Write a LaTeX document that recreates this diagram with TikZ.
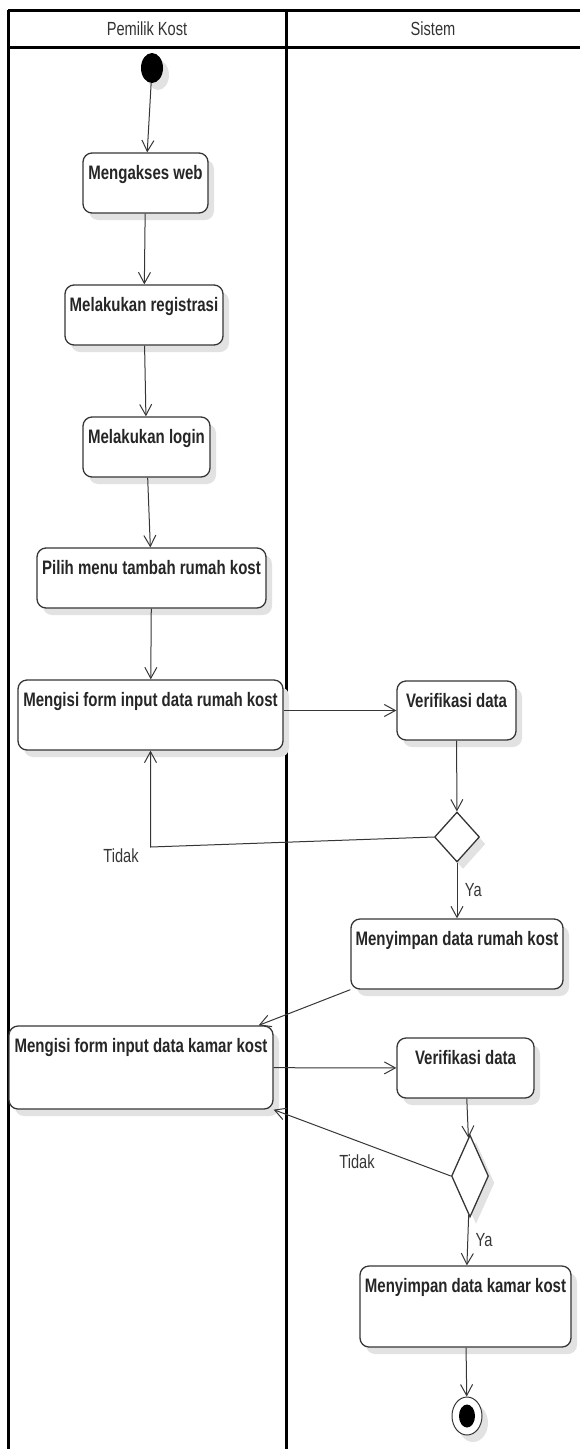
\documentclass[tikz,border=0pt]{standalone}
\usepackage{fontspec}
\setmainfont{Liberation Sans}[FakeStretch=0.77]
\usetikzlibrary{arrows.meta}
\usetikzlibrary{quotes}
\usetikzlibrary{shapes.geometric}
\usetikzlibrary{shadows}
\definecolor{garis}{HTML}{363636}
\definecolor{bayang}{HTML}{E2E2E2}

\begin{document}
\begin{tikzpicture}[x=1pt,y=-1pt,>={Straight Barb[length=11pt,width=12pt]},
    bayangan/.style={drop shadow={shadow xshift=6pt,shadow yshift=-7pt,fill=bayang,opacity=1}},
    every edge/.style={draw=garis,line width=1pt},
    every edge quotes/.style={font=\fontsize{19}{20}\selectfont,text=garis,right,xshift=4pt},
    alur/.style={draw=garis,line width=1pt},
    lajur/.style={line width=3pt},
    judul/.style={font=\fontsize{19}{20}\selectfont,text=black!80},
    ket/.style={font=\fontsize{19}{20}\selectfont,text=garis},
    aksi/.style={draw=garis,line width=1.3pt,rounded corners=9pt,fill=white,bayangan,
      font=\bfseries\fontsize{19.5}{20}\selectfont,text=black!85,
      inner xsep=0pt,inner ysep=0pt,text height=26.5pt},
    keputusan/.style={diamond,draw=garis,line width=1.3pt,fill=white,inner sep=0pt,bayangan},
    mulai/.style={ellipse,fill=black,minimum width=22pt,minimum height=30pt,inner sep=0pt,bayangan},
    selesai/.style={ellipse,draw=garis,line width=1pt,fill=white,minimum width=30pt,minimum height=38pt,
      inner sep=0pt,bayangan,path picture={\fill[black] (path picture bounding box.center) ellipse [x radius=8pt,y radius=11.5pt];}}]
    \useasboundingbox (0,0) rectangle (580,1449);
    % swimlanes
    \draw[lajur] (8,10) -- (580,10);
    \draw[lajur] (8,47) -- (580,47);
    \draw[lajur] (8,10) -- (8,1449);
    \draw[lajur] (286,10) -- (286,1449);
    \node[judul] (lajur1) at (147,29) {Pemilik Kost};
    \node[judul] (lajur2) at (433,29) {Sistem};
    \node[mulai] (start) at (152,68) {};
    \node[aksi,minimum width=125pt,text depth=33.5pt] (web) at (145.5,183) {Mengakses web};
    \node[aksi,minimum width=158pt,text depth=33.5pt] (reg) at (144,315) {Melakukan registrasi};
    \node[aksi,minimum width=127pt,text depth=33.5pt] (login) at (146.5,447) {Melakukan login};
    \node[aksi,minimum width=229pt,text depth=33.5pt] (menu) at (151.5,578) {Pilih menu tambah rumah kost};
    \node[aksi,minimum width=265pt,text depth=43.5pt] (rumah) at (150.5,715) {Mengisi form input data rumah kost};
    \node[aksi,minimum width=119pt,text depth=32.5pt] (verif1) at (456.5,710.5) {Verifikasi data};
    \node[keputusan,minimum width=45pt,minimum height=50pt] (dec1) at (457,837) {};
    \node[aksi,minimum width=212pt,text depth=43.5pt] (simpan1) at (457,954) {Menyimpan data rumah kost};
    \node[aksi,minimum width=264pt,text depth=56.5pt] (kamar) at (141,1067.5) {Mengisi form input data kamar kost};
    \node[aksi,minimum width=137pt,text depth=33.5pt] (verif2) at (465.5,1068) {Verifikasi data};
    \node[keputusan,minimum width=37pt,minimum height=82pt] (dec2) at (470,1176) {};
    \node[aksi,minimum width=211pt,text depth=54.5pt] (simpan2) at (465.5,1306.5) {Menyimpan data kamar kost};
    \node[selesai] (stop) at (467,1416) {};
    \coordinate (belok1) at (150.5,847);
    \node[ket] (tidak1) at (121,856) {Tidak};
    \node[ket] (tidak2) at (357,1162) {Tidak};
    \draw (start) edge[->] (web);
    \draw (web) edge[->] (reg);
    \draw (reg) edge[->] (login);
    \draw (login) edge[->] (menu);
    \draw (menu) edge[->] (rumah);
    \draw (rumah.east |- verif1.west) edge[->] (verif1.west);
    \draw (verif1) edge[->] (dec1);
    \draw[alur,->] (dec1.west) -- (belok1) -- (rumah.south);
    \draw (dec1) edge["Ya",->] (simpan1);
    \draw (simpan1.south west) edge[->] ([xshift=-15pt]kamar.north east);
    \draw (kamar) edge[->] (verif2);
    \draw (verif2) edge[->] (dec2);
    \draw (dec2.west) edge[->] (kamar.south east);
    \draw (dec2) edge["Ya",->] (simpan2);
    \draw (simpan2) edge[->] (stop);
\end{tikzpicture}
\end{document}
